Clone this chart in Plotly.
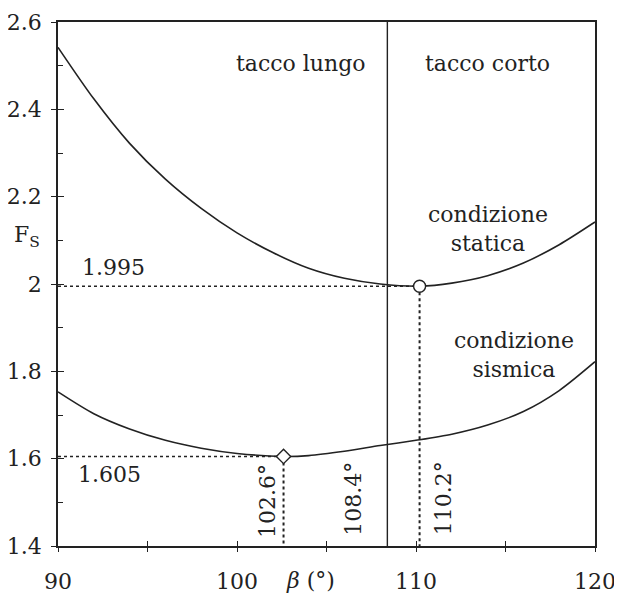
import plotly.graph_objects as go

# ---- data ----
beta_static = [90, 92, 94, 96, 98, 100, 102, 104, 106, 108, 110.2, 112, 114, 116, 118, 120]
fs_static = [2.542, 2.424, 2.322, 2.240, 2.173, 2.117, 2.072, 2.036, 2.013, 2.000, 1.995, 2.002, 2.019, 2.048, 2.090, 2.142]

beta_seismic = [90, 92, 94, 96, 98, 100, 102.6, 104, 106, 108, 110, 112, 114, 116, 118, 120]
fs_seismic = [1.753, 1.703, 1.668, 1.642, 1.624, 1.612, 1.605, 1.607, 1.617, 1.630, 1.642, 1.656, 1.677, 1.708, 1.756, 1.822]

beta_min_static, fs_min_static = 110.2, 1.995
beta_min_seismic, fs_min_seismic = 102.6, 1.605
beta_boundary = 108.4

x_range = [90, 120]
y_range = [1.4, 2.6]
x_tickvals = [90, 100, 110, 120]
x_ticktext = ["90", "100", "110", "120"]
x_minorvals = [95, 105, 115]
y_tickvals = [1.4, 1.6, 1.8, 2.0, 2.2, 2.4, 2.6]
y_ticktext = ["1.4", "1.6", "1.8", "2", "2.2", "2.4", "2.6"]
y_minorvals = [1.5, 1.7, 1.9, 2.1, 2.3, 2.5]

FONT = "DejaVu Serif"
INK = "#222222"

fig = go.Figure()

# curves
fig.add_trace(go.Scatter(x=beta_static, y=fs_static, mode="lines",
                         line=dict(color=INK, width=1.6, shape="spline", smoothing=0.8), showlegend=False))
fig.add_trace(go.Scatter(x=beta_seismic, y=fs_seismic, mode="lines",
                         line=dict(color=INK, width=1.6, shape="spline", smoothing=0.8), showlegend=False))

# boundary line
fig.add_trace(go.Scatter(x=[beta_boundary, beta_boundary], y=[y_range[0], y_range[1]], mode="lines",
                         line=dict(color=INK, width=1.4), showlegend=False))

# dashed guides
for bx, fy in [(beta_min_static, fs_min_static), (beta_min_seismic, fs_min_seismic)]:
    fig.add_trace(go.Scatter(x=[x_range[0], bx], y=[fy, fy], mode="lines",
                             line=dict(color=INK, width=1.6, dash="dot"), showlegend=False))
    fig.add_trace(go.Scatter(x=[bx, bx], y=[fy, y_range[0]], mode="lines",
                             line=dict(color=INK, width=2, dash="dot"), showlegend=False))

# minima markers
fig.add_trace(go.Scatter(x=[beta_min_static], y=[fs_min_static], mode="markers",
                         marker=dict(symbol="circle", size=12, color="white", line=dict(color=INK, width=1.4)),
                         showlegend=False, cliponaxis=False))
fig.add_trace(go.Scatter(x=[beta_min_seismic], y=[fs_min_seismic], mode="markers",
                         marker=dict(symbol="diamond", size=11, color="white", line=dict(color=INK, width=1.4)),
                         showlegend=False, cliponaxis=False))

# overlay axes trace (for crossing ticks)
fig.add_trace(go.Scatter(x=[x_range[0]], y=[y_range[0]], xaxis="x2", yaxis="y2", mode="markers",
                         marker=dict(opacity=0), showlegend=False, hoverinfo="skip"))

axis_common = dict(showgrid=False, zeroline=False, linecolor=INK, linewidth=1.5, tickcolor=INK,
                   automargin=False, tickfont=dict(family=FONT, size=22, color=INK))

fig.update_layout(
    width=614, height=587,
    margin=dict(l=50, r=27, t=14, b=49),
    plot_bgcolor="white", paper_bgcolor="white",
    xaxis=dict(range=x_range, tickvals=x_tickvals, ticktext=x_ticktext, ticks="inside", ticklen=5,
               mirror=True, showline=True, ticklabelstandoff=15,
               minor=dict(tickvals=x_minorvals, ticks="inside", ticklen=5, tickcolor=INK),
               **axis_common),
    yaxis=dict(range=y_range, tickvals=y_tickvals, ticktext=y_ticktext, ticks="inside", ticklen=6,
               mirror=True, showline=True, ticklabelstandoff=10,
               minor=dict(tickvals=y_minorvals, ticks="inside", ticklen=5, tickcolor=INK),
               **axis_common),
    xaxis2=dict(range=x_range, overlaying="x", anchor="y", tickvals=x_tickvals + x_minorvals,
                ticks="outside", ticklen=5,
                showticklabels=False, showline=False, showgrid=False, zeroline=False, tickcolor=INK,
                automargin=False),
    yaxis2=dict(range=y_range, overlaying="y", anchor="x", tickvals=y_tickvals, ticks="outside", ticklen=6,
                showticklabels=False, showline=False, showgrid=False, zeroline=False, tickcolor=INK,
                automargin=False),
)

ann_font = dict(family=FONT, size=22, color=INK)
annotations = [
    dict(x=103.6, y=2.506, text="tacco lungo"),
    dict(x=114.0, y=2.506, text="tacco corto"),
    dict(x=114.0, y=2.125, text="condizione<br>statica"),
    dict(x=115.5, y=1.837, text="condizione<br>sismica"),
    dict(x=93.1, y=2.037, text="1.995"),
    dict(x=92.9, y=1.563, text="1.605"),
    dict(x=101.7, y=1.504, text="102.6°", textangle=-90),
    dict(x=106.5, y=1.509, text="108.4°", textangle=-90),
    dict(x=111.55, y=1.509, text="110.2°", textangle=-90),
]
for a in annotations:
    fig.add_annotation(xref="x", yref="y", showarrow=False, font=ann_font, xanchor="center", yanchor="middle", **a)

# axis titles (outside the plotting area, so placed in paper coordinates)
fig.add_annotation(xref="paper", yref="y", x=-0.058, y=2.108, text="F<sub>S</sub>", showarrow=False,
                   font=ann_font, xanchor="center", yanchor="middle")
fig.add_annotation(xref="x", yref="paper", x=104.1, y=-0.066, text="<i>β</i> (°)", showarrow=False,
                   font=ann_font, xanchor="center", yanchor="middle")

fig.write_html("out.html")
